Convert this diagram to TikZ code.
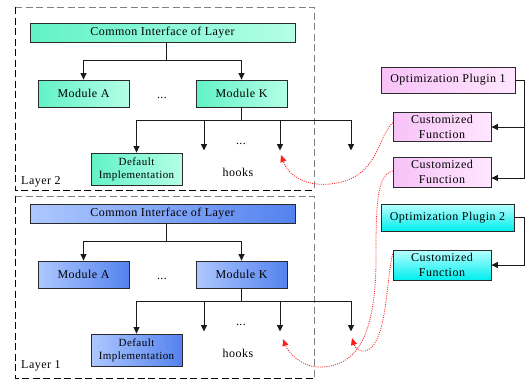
\documentclass[tikz,border=0pt]{standalone}
\usepackage{fontspec}
\setmainfont{Liberation Serif}[LetterSpace=4]
\usetikzlibrary{arrows.meta,calc}
\definecolor{lineC}{HTML}{1A1A1A}
\definecolor{boxC}{HTML}{2A2A2A}
\definecolor{dashG}{HTML}{808080}
\definecolor{La}{HTML}{62F2C6}
\definecolor{Lb}{HTML}{B4FFE6}
\definecolor{Ma}{HTML}{AEC8FF}
\definecolor{Mb}{HTML}{5482EE}
\definecolor{Pa}{HTML}{F7C2F7}
\definecolor{Pb}{HTML}{FFE6FF}
\definecolor{Ca}{HTML}{B8FFFF}
\definecolor{Cb}{HTML}{00EEEE}
\definecolor{curveR}{HTML}{FF1A1A}
\begin{document}
\begin{tikzpicture}[x=1pt,y=-1pt,
  box/.style={draw=boxC, line width=0.8pt, inner sep=0pt, align=center, font=\fontsize{12}{15}\selectfont},
  ltwo/.style={box, left color=La, right color=Lb},
  lone/.style={box, left color=Ma, right color=Mb},
  pone/.style={box, left color=Pa, right color=Pb},
  ptwo/.style={box, top color=Ca, bottom color=Cb},
  wide/.style={minimum width=265pt, minimum height=19pt},
  modbox/.style={minimum width=91pt, minimum height=27pt},
  defbox/.style={minimum width=91pt, minimum height=32pt, font=\fontsize{11}{13}\selectfont},
  cfbox/.style={minimum width=98pt, minimum height=30pt},
  txt/.style={inner sep=0pt, font=\fontsize{12}{15}\selectfont},
  conn/.style={draw=lineC, line width=0.9pt},
  arr/.style={conn, -{Triangle[length=6.5pt,width=6pt]}},
  redcurve/.style={draw=curveR, line width=0.8pt, dash pattern=on 1pt off 1.2pt, -{Triangle[length=7pt,width=6pt]}},
  dashblack/.style={draw=black, line width=0.9pt, dash pattern=on 7pt off 3.5pt},
  dashgray/.style={draw=dashG, line width=0.9pt, dash pattern=on 7pt off 3.5pt}
]
\useasboundingbox (0,0) rectangle (526,381);

% ---------- layer frames ----------
\draw[dashgray] (15,7) -- (314,7) -- (314,190);
\draw[dashblack] (15,7) -- (15,190) -- (314,190);
\draw[dashgray] (15,196) -- (314,196) -- (314,378);
\draw[dashblack] (15,196) -- (15,378) -- (314,378);

% ---------- Layer 2 ----------
\node[ltwo, wide] (ci2) at (162.5,32.5) {Common Interface of Layer};
\node[ltwo, modbox] (ma2) at (83.5,93.5) {Module A};
\node[ltwo, modbox] (mk2) at (241.5,93.5) {Module K};
\node[ltwo, defbox] (di2) at (136.5,169) {Default\\Implementation};
\node[txt, anchor=base] (da2) at (162,98) {...};
\node[txt, anchor=base] (db2) at (241,144) {...};
\node[txt, anchor=base] (hk2) at (238,176) {hooks};
\node[txt, anchor=base west] (lb2) at (21,184) {Layer 2};
\coordinate (j2) at (166,60);
\coordinate (k2) at (241.5,120);
\coordinate (h2a) at (204,150.5);
\coordinate (h2b) at (280,150.5);
\coordinate (h2c) at (351,150.5);
\draw[conn] (ci2.south -| j2) -- (j2);
\draw[arr] (j2) -| (ma2.north);
\draw[arr] (j2) -| (mk2.north);
\draw[conn] (mk2.south) -- (k2);
\draw[arr] (k2) -| (di2.north);
\draw[arr] (k2) -| (h2a);
\draw[arr] (k2) -| (h2b);
\draw[arr] (k2) -| (h2c);

% ---------- Layer 1 ----------
\node[lone, wide] (ci1) at (162.5,213.5) {Common Interface of Layer};
\node[lone, modbox] (ma1) at (83.5,274.5) {Module A};
\node[lone, modbox] (mk1) at (241.5,274.5) {Module K};
\node[lone, defbox] (di1) at (136.5,350) {Default\\Implementation};
\node[txt, anchor=base] (da1) at (162,279) {...};
\node[txt, anchor=base] (db1) at (241,325) {...};
\node[txt, anchor=base] (hk1) at (238,357) {hooks};
\node[txt, anchor=base west] (lb1) at (21,368) {Layer 1};
\coordinate (j1) at (166,241);
\coordinate (k1) at (241.5,301);
\coordinate (h1a) at (204,331.5);
\coordinate (h1b) at (280,331.5);
\coordinate (h1c) at (351,331.5);
\draw[conn] (ci1.south -| j1) -- (j1);
\draw[arr] (j1) -| (ma1.north);
\draw[arr] (j1) -| (mk1.north);
\draw[conn] (mk1.south) -- (k1);
\draw[arr] (k1) -| (di1.north);
\draw[arr] (k1) -| (h1a);
\draw[arr] (k1) -| (h1b);
\draw[arr] (k1) -| (h1c);

% ---------- plugins ----------
\node[pone, minimum width=134pt, minimum height=26pt] (op1) at (448,80) {Optimization Plugin 1};
\node[pone, cfbox, minimum height=29pt] (cf1) at (442,126.5) {Customized\\Function};
\node[pone, cfbox] (cf2) at (442,172) {Customized\\Function};
\node[ptwo, minimum width=133pt, minimum height=27pt] (op2) at (447.5,217.5) {Optimization Plugin 2};
\node[ptwo, cfbox] (cf3) at (442,265) {Customized\\Function};

\coordinate (r1a) at (524.5,80);
\coordinate (r1b) at (524.5,127);
\coordinate (r1c) at (524.5,178);
\coordinate (r2a) at (524.5,217.5);
\coordinate (r2b) at (524.5,265);
\draw[conn] (op1.east) -- (r1a) -- (r1c);
\draw[arr] (r1b) -- (cf1.east |- r1b);
\draw[arr] (r1c) -- (cf2.east |- r1c);
\draw[conn] (op2.east) -- (r2a) -- (r2b);
\draw[arr] (r2b) -- (cf3.east);

% ---------- red dotted links ----------
\coordinate (t2) at (281,155);
\coordinate (t1b) at (283,339);
\coordinate (t1c) at (352,338);
\draw[redcurve] ($(cf1.west)+(0,-4)$) .. controls (378,138) and (378,170) .. (345,181)
  .. controls (315,190) and (290,180) .. (t2);
\draw[redcurve] ($(cf2.west)+(0,-1)$) .. controls (378,175) and (376,200) .. (376,250)
  .. controls (377,330) and (360,368) .. (318,367)
  .. controls (300,366) and (288,352) .. (t1b);
\draw[redcurve] ($(cf3.west)+(0,-11)$) .. controls (386,283) and (387,330) .. (372,347)
  .. controls (362,356) and (355,348) .. (t1c);
\end{tikzpicture}
\end{document}
